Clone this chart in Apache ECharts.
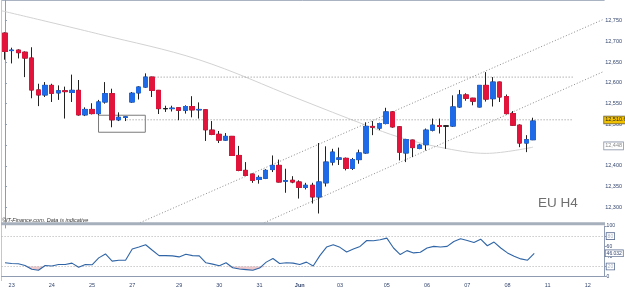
<!DOCTYPE html>
<html>
<head>
<meta charset="utf-8">
<script src="https://cdn.jsdelivr.net/npm/echarts@6/dist/echarts.min.js"></script>
<style>
  html, body { margin: 0; padding: 0; background: #fff; }
  #chart { width: 625px; height: 288px; }
</style>
</head>
<body>
<div id="chart"></div>
<script>
// Session days along the x axis; '' = day start whose label is hidden.
const DAY_LABELS = ['', '23', '24', '25', '27', '', '29', '30', '31', 'Jun', '03', '', '05', '06', '07', '08', '', '11', '12'];
const CANDLES_PER_DAY = [1, 6, 6, 6, 1, 6, 6, 6, 6, 6, 1, 6, 6, 6, 6, 5, 1, 6, 3];

// H4 candles (EUR/USD x10000 style scale as shown on the chart)
const OPEN = [
  12720, 12678, 12679, 12674, 12660, 12583, 12571, 12594, 12576, 12581,
  12577, 12582, 12523, 12536, 12526, 12554, 12574, 12511, 12517, 12554,
  12576, 12590, 12614, 12582, 12538, 12538, 12540, 12534, 12543, 12535,
  12535, 12486, 12476, 12462, 12471, 12425, 12389, 12380, 12367, 12370,
  12391, 12401, 12363, 12365, 12361, 12348, 12353, 12325, 12359, 12409,
  12416, 12418, 12394, 12415, 12431, 12495, 12491, 12502, 12530, 12494,
  12431, 12462, 12442, 12451, 12486, 12497, 12496, 12496, 12542, 12571,
  12563, 12542, 12594, 12562, 12602, 12567, 12526, 12498, 12455, 12463,
];
const CLOSE = [
  12676, 12679, 12673, 12660, 12583, 12571, 12594, 12575, 12581, 12579,
  12582, 12523, 12536, 12526, 12554, 12574, 12511, 12517, 12518, 12575,
  12590, 12614, 12582, 12538, 12538, 12539, 12534, 12543, 12535, 12536,
  12487, 12476, 12462, 12471, 12425, 12389, 12377, 12365, 12372, 12389,
  12401, 12361, 12364, 12361, 12348, 12353, 12325, 12361, 12409, 12433,
  12419, 12394, 12415, 12431, 12495, 12493, 12502, 12530, 12494, 12433,
  12463, 12444, 12450, 12486, 12498, 12495, 12496, 12542, 12571, 12563,
  12556, 12594, 12561, 12602, 12566, 12526, 12498, 12455, 12463, 12508,
];
const LOW = [
  12656, 12647, 12659, 12614, 12563, 12544, 12566, 12554, 12559, 12514,
  12554, 12521, 12520, 12524, 12522, 12550, 12493, 12508, 12508, 12552,
  12560, 12588, 12566, 12525, 12530, 12531, 12510, 12526, 12517, 12514,
  12460, 12474, 12455, 12460, 12424, 12387, 12375, 12359, 12357, 12368,
  12385, 12360, 12335, 12358, 12321, 12343, 12309, 12285, 12350, 12401,
  12402, 12389, 12390, 12405, 12429, 12474, 12486, 12500, 12492, 12413,
  12409, 12421, 12440, 12437, 12483, 12478, 12441, 12494, 12540, 12557,
  12546, 12541, 12555, 12543, 12554, 12524, 12496, 12445, 12433, 12462,
];
const HIGH = [
  12722, 12685, 12681, 12676, 12686, 12598, 12602, 12598, 12594, 12591,
  12620, 12607, 12541, 12551, 12559, 12602, 12586, 12529, 12520, 12578,
  12592, 12623, 12615, 12583, 12545, 12545, 12541, 12546, 12568, 12553,
  12536, 12508, 12484, 12479, 12472, 12448, 12409, 12381, 12377, 12392,
  12425, 12415, 12393, 12375, 12365, 12359, 12359, 12455, 12447, 12441,
  12444, 12420, 12419, 12439, 12505, 12508, 12504, 12540, 12532, 12496,
  12465, 12463, 12453, 12490, 12514, 12514, 12497, 12570, 12583, 12575,
  12564, 12594, 12626, 12614, 12603, 12572, 12532, 12500, 12474, 12516,
];

// Oscillator (0..100) per candle
const OSC = [
  27.3, 25.9, 25.3, 22.0, 14.4, 12.5, 22.0, 20.8, 24.0, 24.0,
  26.6, 18.5, 24.0, 23.4, 37.0, 44.8, 30.5, 32.4, 32.4, 54.6,
  58.4, 63.0, 52.0, 41.5, 41.5, 40.9, 38.9, 44.1, 41.5, 40.9,
  27.3, 24.6, 21.4, 27.3, 17.6, 15.0, 13.7, 12.4, 16.9, 28.6,
  35.8, 26.0, 27.3, 26.6, 24.0, 28.6, 20.8, 41.5, 58.4, 63.0,
  57.8, 48.7, 54.5, 59.7, 71.4, 70.8, 72.7, 76.0, 56.5, 43.5,
  51.3, 46.8, 48.0, 56.5, 59.7, 58.4, 59.7, 69.5, 74.7, 71.4,
  67.5, 74.0, 61.0, 68.2, 56.5, 46.8, 40.2, 35.0, 32.4, 46.0,
];
const OSC_LEVELS = [80, 20];

// Long moving average, sampled at candle positions [index, price]
const MA_POINTS = [[-0.5, 12774], [14, 12718], [29, 12656], [44, 12561], [54, 12498],
  [59, 12469], [65, 12445], [72, 12430], [79, 12445]];

// Drawn objects (index, price)
const CHANNEL_UPPER = [[19.8, 12260], [89.5, 12753]];
const CHANNEL_LOWER = [[38.4, 12260], [89.5, 12627]];
const LEVELS = [
  [[22.4, 12614], [85, 12614]],
  [[18.2, 12511], [85, 12511]],
];
const BOX = [[14, 12522], [21, 12481]];

const LAST_PRICE = 12510.6;
const MA_LAST = 12448;
const OSC_LAST = 46.032;

const categories = [];
const tickText = [];
DAY_LABELS.forEach((d, di) => {
  for (let k = 0; k < CANDLES_PER_DAY[di]; k++) {
    categories.push(di + '-' + k);
    tickText.push(k === 0 ? d : '');
  }
});

const fmtPrice = v => {
  const s = String(Math.round(v));
  return s.slice(0, 2) + ',' + s.slice(2);
};

const candles = OPEN.map((o, i) => [o, CLOSE[i], LOW[i], HIGH[i]]);
const bodies = OPEN.map((o, i) => [o, CLOSE[i], Math.min(o, CLOSE[i]), Math.max(o, CLOSE[i])]);
const oscBase = OSC.map(v => Math.min(v, 20));
const oscFill = OSC.map(v => 20 - Math.min(v, 20));

const AXIS_COLOR = '#8f9bb0';
const LABEL_COLOR = '#34466e';
const CLEAR = 'rgba(0,0,0,0)';
const dotted = { color: '#8c8c8c', width: 1, type: [1, 2] };

// A horizontal marker that only shows its boxed value at the right axis.
const tagLine = (value, text, label) => ({
  silent: true, symbol: ['none', 'none'],
  lineStyle: { color: CLEAR, width: 0 },
  data: [{ yAxis: value }],
  label: Object.assign({
    show: true, position: 'end', distance: 1, formatter: text, fontSize: 5.5,
    fontFamily: 'Liberation Sans, Arial, sans-serif', padding: [1, 1, 0, 1], borderWidth: 0.8,
  }, label),
});

const chart = echarts.init(document.getElementById('chart'), null, { renderer: 'canvas' });

const overlayLine = (data, style, extra) => Object.assign({
  type: 'line', xAxisIndex: 1, yAxisIndex: 0, data,
  showSymbol: false, symbol: 'none', silent: true,
  lineStyle: style, z: 1,
}, extra || {});

chart.setOption({
  animation: false,
  backgroundColor: '#fff',
  grid: [
    { left: 1.6, right: 20.4, top: -0.8, height: 228.8 },
    { left: 1.6, right: 20.4, top: 226, height: 51.3 },
  ],
  xAxis: [
    { type: 'category', gridIndex: 0, data: categories, show: false, boundaryGap: true },
    { type: 'value', gridIndex: 0, min: -0.5, max: 89.5, show: false },
    {
      type: 'category', gridIndex: 1, data: categories, boundaryGap: true,
      offset: 3.4,
      axisLine: { show: true, lineStyle: { color: AXIS_COLOR, width: 1 } },
      axisTick: { show: false },
      axisLabel: {
        interval: 0, margin: 2, fontSize: 5.5, color: LABEL_COLOR,
        fontFamily: 'Liberation Sans, Arial, sans-serif',
        formatter: (v, i) => tickText[i] === 'Jun' ? '{b|Jun}' : tickText[i],
        rich: { b: { fontWeight: 'bold', fontSize: 5.5, color: LABEL_COLOR } },
      },
      splitLine: { show: false },
    },
  ],
  yAxis: [
    {
      type: 'value', gridIndex: 0, position: 'right', min: 12250, max: 12800, interval: 50,
      axisLine: { show: true, lineStyle: { color: AXIS_COLOR } },
      axisTick: { show: true, length: 2, lineStyle: { color: AXIS_COLOR } },
      axisLabel: {
        fontSize: 5.5, color: LABEL_COLOR, margin: 2, showMinLabel: false, showMaxLabel: false,
        fontFamily: 'Liberation Sans, Arial, sans-serif', formatter: fmtPrice,
      },
      splitLine: { show: false },
    },
    {
      type: 'value', gridIndex: 1, position: 'right', min: 0, max: 100, interval: 20,
      axisLine: { show: true, lineStyle: { color: AXIS_COLOR } },
      axisTick: { show: true, length: 2, lineStyle: { color: AXIS_COLOR } },
      axisLabel: {
        fontSize: 5, color: LABEL_COLOR, margin: 2,
        fontFamily: 'Liberation Sans, Arial, sans-serif',
        formatter: v => OSC_LEVELS.includes(v) ? '{box|' + v + '}' : String(v),
        rich: {
          box: {
            fontSize: 5, color: '#aab4c6', borderColor: '#5d6f92', borderWidth: 0.8,
            padding: [1, 1, 0, 1], backgroundColor: '#fff',
          },
        },
      },
      splitLine: { show: false },
    },
  ],
  graphic: [
    { type: 'line', shape: { x1: 1, y1: 0.5, x2: 604.6, y2: 0.5 }, style: { stroke: '#a9b3c2', lineWidth: 1 } },
    { type: 'line', shape: { x1: 1.5, y1: 0, x2: 1.5, y2: 281 }, style: { stroke: '#bcc8dc', lineWidth: 1 } },
    { type: 'rect', shape: { x: 1, y: 222.3, width: 604, height: 3 }, style: { fill: '#a6afbc' }, z: 50 },
    {
      type: 'text', left: 2, top: 217.6, z: 60,
      style: { text: '©IT-Finance.com. Data is indicative', fontSize: 5.5, fontStyle: 'italic', fill: '#333', fontFamily: 'Liberation Sans, Arial, sans-serif' },
    },
    {
      type: 'text', left: 538, top: 196, z: 60,
      style: { text: 'EU H4', fontSize: 13.5, fill: '#6f6f6f', fontFamily: 'Liberation Sans, Arial, sans-serif' },
    },
  ],
  series: [
    overlayLine(MA_POINTS, { color: '#d2d2d2', width: 1 }, {
      smooth: 0.35,
      markLine: tagLine(MA_LAST, fmtPrice(MA_LAST), {
        color: '#8a8a8a', backgroundColor: '#fff', borderColor: '#8a94a8',
      }),
    }),
    overlayLine(CHANNEL_UPPER, dotted),
    overlayLine(CHANNEL_LOWER, dotted),
    overlayLine(LEVELS[0], dotted),
    overlayLine(LEVELS[1], dotted, {
      markArea: {
        silent: true,
        itemStyle: { color: CLEAR, borderColor: '#7a7a7a', borderWidth: 1 },
        data: [[{ coord: BOX[0] }, { coord: BOX[1] }]],
      },
    }),
    {
      // wicks
      type: 'candlestick', xAxisIndex: 0, yAxisIndex: 0, data: candles, barWidth: 5, z: 3,
      itemStyle: { color: '#222', color0: '#222', borderColor: '#222', borderColor0: '#222', borderWidth: 1 },
    },
    {
      // bodies
      type: 'candlestick', xAxisIndex: 0, yAxisIndex: 0, data: bodies, barWidth: 5, z: 4,
      itemStyle: {
        color: '#1f6ae6', color0: '#e2143c', borderColor: '#1f6ae6', borderColor0: '#e2143c',
        borderColorDoji: '#222', borderWidth: 1,
      },
      markLine: tagLine(LAST_PRICE, '12,510.6', {
        color: '#222', backgroundColor: '#f2c200', borderColor: '#555',
      }),
    },
    {
      type: 'line', xAxisIndex: 2, yAxisIndex: 1, data: oscBase, stack: 'osc',
      showSymbol: false, symbol: 'none', silent: true, lineStyle: { width: 0, color: CLEAR },
    },
    {
      type: 'line', xAxisIndex: 2, yAxisIndex: 1, data: oscFill, stack: 'osc',
      showSymbol: false, symbol: 'none', silent: true, lineStyle: { width: 0, color: CLEAR },
      areaStyle: { color: '#ecc8cc', opacity: 1 },
    },
    {
      type: 'line', xAxisIndex: 2, yAxisIndex: 1, data: OSC,
      showSymbol: false, symbol: 'none', silent: true, z: 5,
      lineStyle: { color: '#2f65a6', width: 1.1 },
      markLine: {
        silent: true, symbol: ['none', 'none'],
        lineStyle: { color: '#b0b0b0', width: 1, type: [1, 2] },
        label: { show: false },
        data: OSC_LEVELS.map(v => ({ yAxis: v })),
      },
    },
    {
      // carries the boxed last-value tag of the oscillator
      type: 'line', xAxisIndex: 2, yAxisIndex: 1, data: [], silent: true,
      markLine: tagLine(OSC_LAST, String(OSC_LAST), {
        fontSize: 5, color: '#34466e', backgroundColor: '#fff', borderColor: '#5d6f92',
      }),
    },
  ],
});
</script>
</body>
</html>
